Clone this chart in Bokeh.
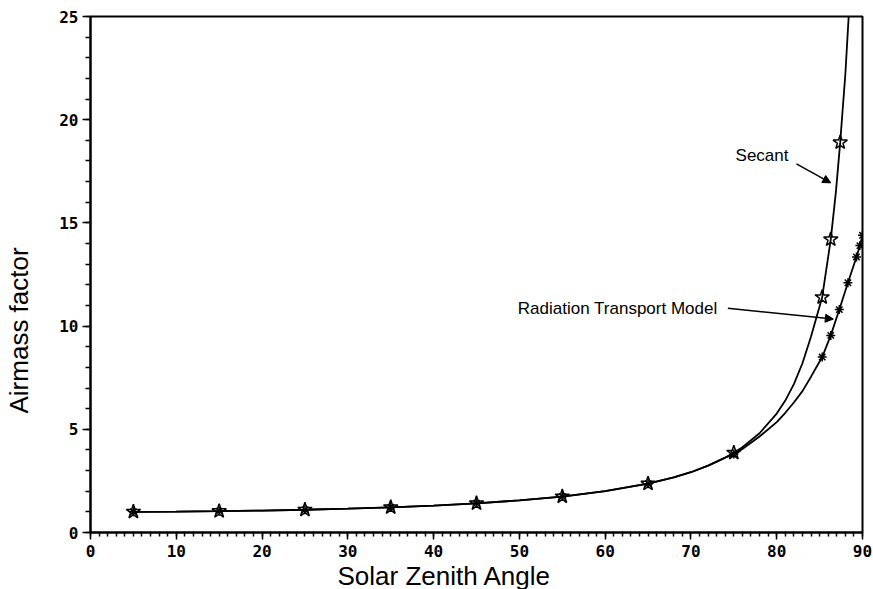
from bokeh.plotting import figure
from bokeh.models import (Range1d, SingleIntervalTicker, Label, Arrow, NormalHead,
                          ColumnDataSource, Title, LinearAxis, FixedTicker)
from bokeh.embed import file_html
from bokeh.resources import INLINE

# ---- data ----
secant_x = [5, 10, 15, 20, 25, 30, 35, 40, 45, 50, 55, 60, 65, 68, 70, 72, 74, 75,
            76, 78, 80, 81, 82, 83, 84, 85.3, 86.3, 86.9, 87.4, 88.0, 88.5]
secant_y = [1.004, 1.015, 1.035, 1.064, 1.103, 1.155, 1.221, 1.305, 1.414, 1.556, 1.743,
            2.0, 2.366, 2.67, 2.92, 3.24, 3.63, 3.86, 4.13, 4.81, 5.76, 6.39, 7.19, 8.2,
            9.5, 11.4, 14.2, 16.5, 18.9, 22.2, 25.8]

secant_mark_x = [5, 15, 25, 35, 45, 55, 65, 75, 85.3, 86.3, 87.4]
secant_mark_y = [1.004, 1.035, 1.103, 1.221, 1.414, 1.743, 2.366, 3.86, 11.4, 14.2, 18.9]

rtm_x = [5, 10, 15, 20, 25, 30, 35, 40, 45, 50, 55, 60, 65, 68, 70, 72, 74, 75,
         76, 78, 80, 81, 82, 83, 84, 85.3, 86.3, 87.3, 88.3, 89.3, 89.7, 90.0]
rtm_y = [1.004, 1.015, 1.035, 1.064, 1.103, 1.155, 1.221, 1.305, 1.414, 1.556, 1.743,
         2.0, 2.366, 2.67, 2.92, 3.24, 3.63, 3.8, 4.05, 4.65, 5.35, 5.8, 6.3, 6.85,
         7.55, 8.5, 9.55, 10.8, 12.1, 13.35, 13.9, 14.4]

rtm_mark_x = [5, 15, 25, 35, 45, 55, 65, 75, 85.3, 86.3, 87.3, 88.3, 89.3, 89.7, 90.0]
rtm_mark_y = [1.004, 1.035, 1.103, 1.221, 1.414, 1.743, 2.366, 3.8, 8.5, 9.55, 10.8,
              12.1, 13.35, 13.9, 14.4]

x_label = "Solar Zenith Angle"
y_label = "Airmass factor"

p = figure(width=873, height=589, output_backend="svg", toolbar_location=None,
           x_range=Range1d(0, 90), y_range=Range1d(0, 25),
           min_border_left=0, min_border_right=11, min_border_top=16, min_border_bottom=0)
p.background_fill_color = "white"
p.border_fill_color = "white"
p.outline_line_color = "black"
p.outline_line_width = 2
p.grid.visible = False

tick_font = "DejaVu Sans Mono"
p.xaxis.ticker = SingleIntervalTicker(interval=10, num_minor_ticks=10)
p.yaxis.ticker = SingleIntervalTicker(interval=5, num_minor_ticks=5)
for ax in (p.xaxis, p.yaxis):
    ax.axis_line_width = 2
    ax.axis_line_color = "black"
    ax.major_tick_line_color = "black"
    ax.minor_tick_line_color = "black"
    ax.major_tick_line_width = 1.5
    ax.minor_tick_line_width = 1.5
    ax.major_tick_in = 0
    ax.minor_tick_in = 0
    ax.major_label_text_font = tick_font
    ax.major_label_text_font_size = "16px"
    ax.major_label_text_font_style = "bold"
    ax.major_label_text_color = "black"
p.xaxis.major_tick_out = 7
p.xaxis.minor_tick_out = 4
p.xaxis.major_label_standoff = 5
p.yaxis.major_tick_out = 8
p.yaxis.minor_tick_out = 5
p.yaxis.major_label_standoff = 4

# invisible spacer between the y axis and its title
spacer = LinearAxis(ticker=FixedTicker(ticks=[0], minor_ticks=[]), axis_line_color=None,
                    major_tick_out=17, major_tick_in=0, minor_tick_out=0,
                    major_label_standoff=0, major_tick_line_color=None,
                    minor_tick_line_color=None, major_label_overrides={0: ""})
p.add_layout(spacer, "left")

src_s = ColumnDataSource(dict(x=secant_x, y=secant_y))
src_r = ColumnDataSource(dict(x=rtm_x, y=rtm_y))
p.line("x", "y", source=src_s, line_color="black", line_width=1.8)
p.line("x", "y", source=src_r, line_color="black", line_width=1.8)
p.scatter(rtm_mark_x, rtm_mark_y, marker="asterisk", size=9, line_color="black",
          line_width=1.5)
p.scatter(secant_mark_x, secant_mark_y, marker="star", size=15, line_color="black",
          fill_color=None, line_width=1.5)

lab_font = "Liberation Sans"
p.add_layout(Label(x=75.2, y=18.25, text="Secant", text_font=lab_font, text_color="black",
                   text_font_size="17px", text_baseline="alphabetic", text_align="left"))
p.add_layout(Label(x=73.1, y=10.83, text="Radiation Transport Model", text_font=lab_font,
                   text_color="black",
                   text_font_size="17px", text_baseline="alphabetic", text_align="right"))
p.add_layout(Arrow(end=NormalHead(size=8, fill_color="black", line_color="black"),
                   x_start=82.3, y_start=17.86, x_end=86.3, y_end=16.94,
                   line_width=1.5, line_color="black"))
p.add_layout(Arrow(end=NormalHead(size=8, fill_color="black", line_color="black"),
                   x_start=74.3, y_start=10.87, x_end=86.6, y_end=10.34,
                   line_width=1.5, line_color="black"))

p.add_layout(Title(text=x_label, align="left", offset=247, standoff=-2,
                   text_font=lab_font, text_font_size="26px", text_font_style="normal",
                   text_color="black"), "below")
p.add_layout(Title(text=y_label, align="left", offset=119, standoff=7,
                   vertical_align="top",
                   text_font=lab_font, text_font_size="26px", text_font_style="normal",
                   text_color="black"), "left")

open("out.html", "w").write(file_html(p, INLINE))
